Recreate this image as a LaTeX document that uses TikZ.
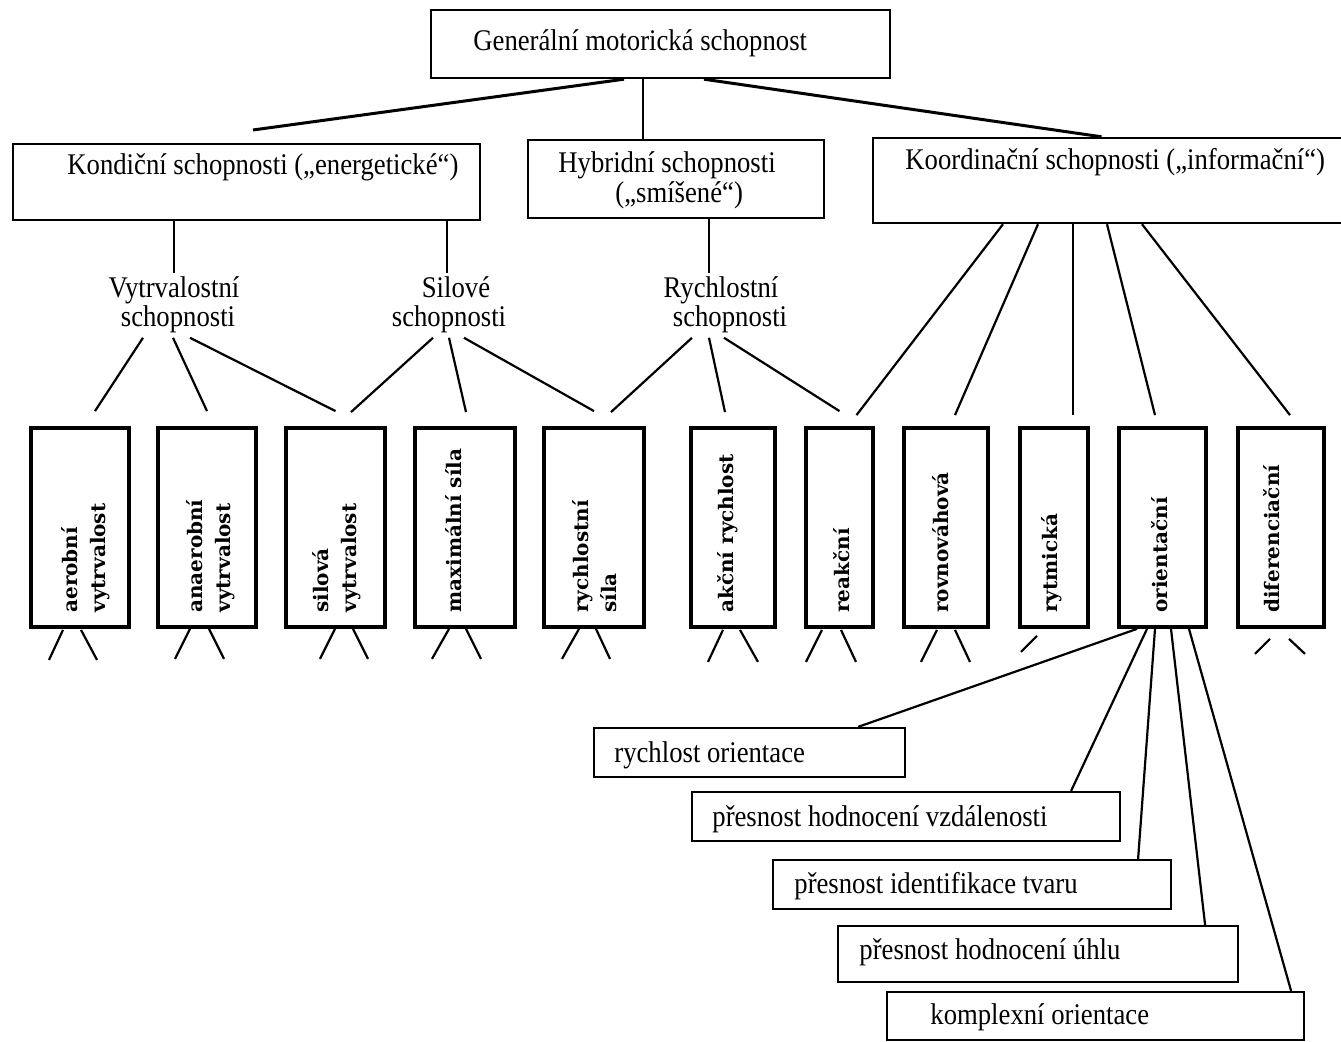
\documentclass[tikz,border=0pt]{standalone}
\usepackage{fontspec}
\setmainfont{Liberation Serif}[FakeStretch=0.89]
\newfontfamily\vfont{DejaVu Serif}
\newcommand\mystub[5]{\draw[conn] ([xshift=#2pt,yshift=#3pt]#1.south) -- ([xshift=#4pt,yshift=#5pt]#1.south);}
\begin{document}
\begin{tikzpicture}[x=0.5pt,y=-0.5pt,
  topbox/.style={draw, line width=1.2pt, inner sep=0pt},
  vbx/.style={draw, line width=1.9pt, minimum height=99.5pt, inner sep=0pt},
  vlab/.style={rotate=90, anchor=west, align=left, inner sep=0pt, font=\vfont\bfseries\fontsize{10}{14}\selectfont},
  obx/.style={draw, fill=white, line width=1.1pt, inner sep=0pt},
  otxt/.style={anchor=west, inner sep=0pt, font=\fontsize{15}{15}\selectfont},
  ttxt/.style={anchor=base west, inner sep=0pt, font=\fontsize{15}{15}\selectfont},
  midtxt/.style={anchor=base, inner xsep=0pt, inner ysep=2pt, font=\fontsize{15}{15}\selectfont},
  conn/.style={line width=1.1pt},
  bigconn/.style={line width=1.5pt}
]
\useasboundingbox (0,0) rectangle (1341,1042);
\fill[white] (0,0) rectangle (1341,1042);

% top level boxes
\node[topbox, minimum width=229.5pt, minimum height=34pt] (gen) at (660.5,44) {};
\node[topbox, minimum width=233.5pt, minimum height=38pt] (kond) at (246.5,182) {};
\node[topbox, minimum width=148pt, minimum height=39pt] (hyb) at (676,179) {};
\node[topbox, minimum width=235.5pt, minimum height=42.5pt] (koord) at (1108.5,180.5) {};

\node[ttxt] (genT) at (473,51) {Generální motorická schopnost};
\node[ttxt] (kondT) at (67,175) {Kondiční schopnosti („energetické“)};
\node[ttxt] (hybT1) at (558,173) {Hybridní schopnosti};
\node[ttxt] (hybT2) at (615,203) {(„smíšené“)};
\node[ttxt] (koordT) at (905,170) {Koordinační schopnosti („informační“)};

% middle level
\node[midtxt] (vyt1) at (174,298) {Vytrvalostní};
\node[midtxt] (vyt2) at (178,327) {schopnosti};
\node[midtxt] (sil1) at (456,298) {Silové};
\node[midtxt] (sil2) at (449,327) {schopnosti};
\node[midtxt] (ryc1) at (721,298) {Rychlostní};
\node[midtxt] (ryc2) at (730,327) {schopnosti};

% vertical boxes
\node[vbx, minimum width=49pt] (b1) at (80,527.5) {};
\node[vbx, minimum width=49pt] (b2) at (207,527.5) {};
\node[vbx, minimum width=49.5pt] (b3) at (335.5,527.5) {};
\node[vbx, minimum width=50pt] (b4) at (465,527.5) {};
\node[vbx, minimum width=50pt] (b5) at (594,527.5) {};
\node[vbx, minimum width=42pt] (b6) at (733,527.5) {};
\node[vbx, minimum width=33.5pt] (b7) at (839.5,527.5) {};
\node[vbx, minimum width=42pt] (b8) at (946,527.5) {};
\node[vbx, minimum width=34pt] (b9) at (1054,527.5) {};
\node[vbx, minimum width=43.5pt] (b10) at (1162.5,527.5) {};
\node[vbx, minimum width=43pt] (b11) at (1281,527.5) {};

\node[vlab] (t1) at (86,613) {aerobní\\vytrvalost};
\node[vlab] (t2) at (211,613) {anaerobní\\vytrvalost};
\node[vlab] (t3) at (337,613) {silová\\vytrvalost};
\node[vlab] (t4) at (454,613) {maximální síla};
\node[vlab] (t5) at (595,613) {rychlostní\\síla};
\node[vlab] (t6) at (728,613) {akční rychlost};
\node[vlab] (t7) at (842,613) {reakční};
\node[vlab] (t8) at (941,613) {rovnováhová};
\node[vlab] (t9) at (1052,613) {rytmická};
\node[vlab] (t10) at (1160,613) {orientační};
\node[vlab] (t11) at (1272,613) {diferenciační};

% connectors from the top box
\coordinate (kl) at (253,130);
\coordinate (genMid) at ([xshift=-8.75pt]gen.south);
\draw[bigconn] ([xshift=-18.25pt]gen.south) -- (kl);
\draw[conn] (genMid) -- (genMid |- hyb.north);
\draw[bigconn] ([xshift=21.75pt]gen.south) -- ([xshift=-3.5pt]koord.north);

% second level to third level
\coordinate (silTop) at ([xshift=-4.5pt]sil1.north);
\coordinate (rycTop) at ([xshift=-6pt]ryc1.north);
\draw[conn] (vyt1.north |- kond.south) -- (vyt1.north);
\draw[conn] (silTop |- kond.south) -- (silTop);
\draw[conn] (rycTop |- hyb.south) -- (rycTop);

% third level to vertical boxes
\draw[conn] ([xshift=-17.5pt]vyt2.south) -- ([xshift=7.5pt,yshift=7.5pt]b1.north);
\draw[conn] ([xshift=-2.5pt]vyt2.south) -- ([yshift=7.5pt]b2.north);
\draw[conn] ([xshift=6pt]vyt2.south) -- ([yshift=7.5pt]b3.north);
\draw[conn] ([xshift=-8pt]sil2.south) -- ([xshift=7.75pt,yshift=7pt]b3.north);
\draw[conn] (sil2.south) -- ([xshift=0.5pt,yshift=7pt]b4.north);
\draw[conn] ([xshift=7.5pt]sil2.south) -- ([yshift=7.5pt]b5.north);
\draw[conn] ([xshift=-19pt]ryc2.south) -- ([xshift=8.5pt,yshift=7pt]b5.north);
\draw[conn] ([xshift=-10.5pt]ryc2.south) -- ([xshift=-4pt,yshift=7pt]b6.north);
\draw[conn] ([xshift=-3pt]ryc2.south) -- ([yshift=7.5pt]b7.north);

\draw[conn] ([xshift=-52.75pt]koord.south) -- ([xshift=8.5pt,yshift=5.5pt]b7.north);
\draw[conn] ([xshift=-35.25pt]koord.south) -- ([xshift=4.5pt,yshift=5.5pt]b8.north);
\draw[conn] ([xshift=-17.75pt]koord.south) -- ([xshift=9.5pt,yshift=5.5pt]b9.north);
\draw[conn] ([xshift=-0.75pt]koord.south) -- ([xshift=-3.75pt,yshift=5.5pt]b10.north);
\draw[conn] ([xshift=16.75pt]koord.south) -- ([xshift=4.5pt,yshift=5.5pt]b11.north);

% stubs below the vertical boxes
\mystub{b1}{-8.5}{-0.5}{-15.5}{-15.5}
\mystub{b1}{0.5}{-0.5}{8.5}{-15.5}
\mystub{b2}{-8.5}{0}{-16}{-15}
\mystub{b2}{1}{0}{8.5}{-15}
\mystub{b3}{-0.25}{0}{-7.75}{-15}
\mystub{b3}{8.75}{0}{16.25}{-15}
\mystub{b4}{-8}{0}{-16.5}{-15}
\mystub{b4}{0.5}{0}{8}{-15}
\mystub{b5}{-7.5}{0}{-16}{-15}
\mystub{b5}{1}{0}{8}{-15}
\mystub{b6}{-5}{-0.5}{-12.5}{-16.5}
\mystub{b6}{3.5}{-0.5}{12.5}{-16.5}
\mystub{b7}{-8.75}{-0.5}{-16.75}{-16.5}
\mystub{b7}{0.75}{-0.5}{8.25}{-16.5}
\mystub{b8}{-4.5}{-0.5}{-12.5}{-16.5}
\mystub{b8}{4.5}{-0.5}{12}{-16.5}
\mystub{b9}{-8.5}{-3.5}{-16.5}{-11.5}
\mystub{b11}{-5.5}{-5}{-13}{-12.5}
\mystub{b11}{4}{-5}{12}{-12.5}

% orientation sub-boxes
\node[obx, minimum width=155.5pt, minimum height=24.5pt] (o1) at (749.5,752.5) {};
\node[obx, minimum width=214pt, minimum height=24.5pt] (o2) at (906,816.5) {};
\node[obx, minimum width=199pt, minimum height=24.5pt] (o3) at (972,884.5) {};
\node[obx, minimum width=200pt, minimum height=28pt] (o4) at (1038,954) {};
\node[obx, minimum width=208.5pt, minimum height=24pt] (o5) at (1095.5,1016) {};

\node[otxt] (o1T) at (614,755) {rychlost orientace};
\node[otxt] (o2T) at (712,819) {přesnost hodnocení vzdálenosti};
\node[otxt] (o3T) at (794,886) {přesnost identifikace tvaru};
\node[otxt] (o4T) at (859,952) {přesnost hodnocení úhlu};
\node[otxt] (o5T) at (930,1017) {komplexní orientace};

\draw[conn] ([xshift=-12.75pt]b10.south) -- ([xshift=-24pt]o1.north east);
\draw[conn] ([xshift=-7.75pt]b10.south) -- ([xshift=-25pt]o2.north east);
\draw[conn] ([xshift=-3.75pt]b10.south) -- ([xshift=-17pt]o3.north east);
\draw[conn] ([xshift=4.25pt]b10.south) -- ([xshift=-17pt]o4.north east);
\draw[conn] ([xshift=13.25pt]b10.south) -- ([xshift=-7pt]o5.north east);
\end{tikzpicture}
\end{document}
